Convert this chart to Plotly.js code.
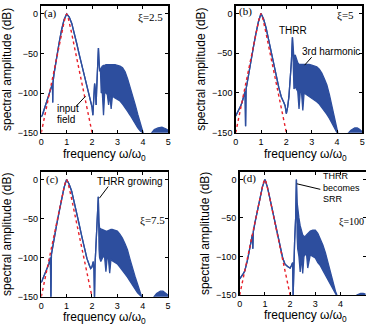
<!DOCTYPE html>
<html>
<head>
<meta charset="utf-8">
<script src="https://cdn.plot.ly/plotly-3.0.1.min.js"></script>
<style>html,body{margin:0;padding:0;background:#fff;}#chart{width:366px;height:327px;}</style>
</head>
<body>
<div id="chart"></div>
<script>
// ---- data ----
var xTicks = [0, 1, 2, 3, 4, 5];
var yTicks = [0, -50, -100, -150];
var xTitle = 'frequency ω/ω<sub>0</sub>';
var yTitle = 'spectral amplitude (dB)';

// input field (red dotted), shared by all panels
var xInput = [0,0.1,0.2,0.3,0.4,0.5,0.6,0.7,0.8,0.85,0.9,0.95,1.0,1.05,1.1,1.15,1.2,1.3,1.4,1.5,1.6,1.7,1.8,1.9,2.0];
var yInput = [-150,-134,-118,-103,-87,-72,-56,-41,-25,-18,-10,-3.5,0,-3.5,-10,-18,-25,-41,-56,-72,-87,-103,-118,-134,-150];

// panel (a) xi = 2.5 : upper / lower envelope of the output spectrum
var xA  = [0,0.05,0.1,0.15,0.2,0.25,0.3,0.35,0.4,0.44,0.45,0.46,0.5,0.6,0.7,0.8,0.9,1.0,1.1,1.2,1.3,1.4,1.5,1.6,1.7,1.8,1.85,1.9,1.95,2.0,2.03,2.07,2.1,2.13,2.16,2.18,2.2,2.23,2.25,2.27,2.3,2.33,2.36,2.4,2.45,2.5,2.55,2.6,2.65,2.7,2.75,2.8,2.9,3.0,3.1,3.2,3.3,3.4,3.5,3.6,3.7,3.8,3.9,4.0,4.1,4.3,4.45,4.6,4.75,4.9,5.0];
var hiA = [-130,-127,-122,-117,-111,-104,-99,-94,-90,-88,-112,-87,-76,-55,-37,-20,-7,0,-4,-12,-24,-38,-52,-66,-80,-94,-100,-106,-112,-118,-128,-100,-88,-96,-115,-95,-80,-60,-43,-58,-72,-70,-68,-66,-65,-65,-64,-64,-64,-64,-64,-64,-64,-65,-66,-68,-73,-82,-92,-103,-115,-127,-138,-150,-160,-152,-146,-144,-143,-145,-147];
var loA = [-130,-127,-122,-117,-111,-104,-99,-94,-90,-88,-112,-87,-76,-55,-37,-20,-7,0,-4,-12,-24,-38,-52,-66,-80,-94,-100,-106,-112,-118,-128,-100,-88,-96,-115,-95,-80,-60,-43,-58,-72,-72,-100,-98,-128,-98,-100,-102,-115,-102,-120,-104,-106,-108,-110,-114,-118,-123,-128,-134,-139,-144,-148,-150,-160,-160,-160,-160,-160,-160,-160];

// panel (b) xi = 5
var xB  = [0,0.05,0.1,0.15,0.2,0.25,0.3,0.35,0.37,0.39,0.41,0.45,0.5,0.6,0.7,0.8,0.9,1.0,1.1,1.2,1.3,1.4,1.5,1.6,1.7,1.8,1.9,1.95,2.0,2.05,2.1,2.15,2.2,2.24,2.27,2.3,2.35,2.4,2.45,2.5,2.55,2.6,2.65,2.7,2.8,2.9,3.0,3.1,3.2,3.3,3.4,3.5,3.6,3.7,3.8,3.9,4.0,4.1,4.4,4.55,4.7,4.8,4.9,5.0];
var hiB = [-129,-126,-123,-120,-116,-112,-106,-100,-98,-142,-95,-88,-78,-60,-42,-25,-10,0,-7,-18,-32,-46,-62,-78,-93,-105,-112,-116,-126,-118,-105,-85,-60,-30,-52,-56,-52,-58,-62,-64,-64,-64,-64,-64,-64,-64,-65,-66,-67,-70,-75,-82,-90,-102,-116,-130,-148,-160,-152,-147,-144,-144,-146,-149];
var loB = [-129,-126,-123,-120,-116,-112,-106,-100,-98,-142,-95,-88,-78,-60,-42,-25,-10,0,-7,-18,-32,-46,-62,-78,-93,-105,-112,-116,-126,-118,-105,-85,-60,-30,-80,-95,-92,-96,-98,-120,-98,-100,-122,-100,-102,-104,-106,-108,-111,-114,-118,-122,-127,-132,-138,-144,-150,-160,-160,-160,-160,-160,-160,-160];

// panel (c) xi = 7.5
var xC  = [0,0.05,0.1,0.15,0.2,0.25,0.3,0.36,0.38,0.4,0.45,0.5,0.6,0.7,0.8,0.9,1.0,1.1,1.2,1.3,1.4,1.5,1.6,1.7,1.8,1.9,1.95,2.0,2.05,2.08,2.1,2.12,2.15,2.2,2.25,2.28,2.3,2.35,2.4,2.45,2.5,2.55,2.6,2.65,2.7,2.75,2.8,2.9,3.0,3.1,3.2,3.3,3.4,3.5,3.6,3.7,3.8,3.9,3.96,4.1,4.4,4.55,4.7,4.8,4.9,5.0];
var hiC = [-132,-128,-125,-122,-117,-113,-108,-100,-152,-96,-86,-77,-59,-42,-25,-10,0,-6,-15,-28,-42,-58,-73,-88,-101,-110,-114,-112,-105,-115,-152,-110,-90,-70,-22,-55,-62,-63,-64,-64,-65,-66,-66,-65,-64,-64,-64,-65,-66,-70,-75,-82,-90,-102,-114,-124,-134,-145,-150,-160,-152,-146,-143,-143,-145,-148];
var loC = [-132,-128,-125,-122,-117,-113,-108,-100,-152,-96,-86,-77,-59,-42,-25,-10,0,-6,-15,-28,-42,-58,-73,-88,-101,-110,-114,-112,-105,-115,-152,-110,-90,-70,-22,-90,-100,-105,-100,-98,-100,-118,-100,-102,-120,-102,-104,-106,-108,-112,-116,-120,-125,-130,-136,-140,-145,-148,-150,-160,-160,-160,-160,-160,-160,-160];

// panel (d) xi = 100
var xD  = [0,0.05,0.1,0.15,0.2,0.25,0.3,0.35,0.4,0.45,0.5,0.52,0.54,0.6,0.7,0.8,0.9,1.0,1.1,1.2,1.3,1.4,1.5,1.6,1.7,1.75,1.8,1.9,2.0,2.05,2.1,2.12,2.14,2.18,2.22,2.25,2.28,2.3,2.35,2.4,2.45,2.5,2.55,2.6,2.65,2.7,2.8,2.9,3.0,3.1,3.2,3.3,3.4,3.5,3.6,3.7,3.8,3.86,4.0,4.5,4.65,4.8,4.9,5.0];
var hiD = [-129,-127,-125,-122,-119,-114,-106,-98,-88,-80,-72,-90,-68,-57,-41,-25,-10,0,-10,-25,-41,-56,-72,-87,-101,-106,-110,-113,-115,-112,-108,-152,-105,-80,-50,0,-30,-40,-50,-60,-68,-72,-74,-74,-72,-70,-67,-66,-66,-70,-77,-85,-95,-108,-122,-134,-145,-150,-160,-160,-150,-148,-148,-149];
var loD = [-129,-127,-125,-122,-119,-114,-106,-98,-88,-80,-72,-90,-68,-57,-41,-25,-10,0,-10,-25,-41,-56,-72,-87,-101,-106,-110,-113,-115,-112,-108,-152,-105,-80,-50,0,-75,-90,-100,-120,-100,-122,-100,-98,-96,-115,-98,-100,-102,-108,-112,-118,-124,-130,-136,-142,-148,-150,-160,-160,-160,-160,-160,-160];

// ---- drawing ----
var BLUE = '#2d4e9e';
var RED = '#e8202a';
var SANS = 'Liberation Sans, Arial, Helvetica, sans-serif';
var SERIF = 'Liberation Serif, Times New Roman, serif';

var panels = [
  {xs: xA, hi: hiA, lo: loA, xa: 'x',  ya: 'y'},
  {xs: xB, hi: hiB, lo: loB, xa: 'x2', ya: 'y2'},
  {xs: xC, hi: hiC, lo: loC, xa: 'x3', ya: 'y3'},
  {xs: xD, hi: hiD, lo: loD, xa: 'x4', ya: 'y4'}
];

var traces = [];
panels.forEach(function(p){
  traces.push({x: p.xs, y: p.lo, xaxis: p.xa, yaxis: p.ya, type: 'scatter', mode: 'lines',
    line: {color: BLUE, width: 1.3}, hoverinfo: 'skip'});
  traces.push({x: p.xs, y: p.hi, xaxis: p.xa, yaxis: p.ya, type: 'scatter', mode: 'lines',
    line: {color: BLUE, width: 1.3}, fill: 'tonexty', fillcolor: BLUE, hoverinfo: 'skip'});
  traces.push({x: xInput, y: yInput, xaxis: p.xa, yaxis: p.ya, type: 'scatter', mode: 'lines',
    line: {color: RED, width: 1.4, dash: 'dot'}, hoverinfo: 'skip'});
});

function xAxis(dom, anchor){
  return {domain: dom, anchor: anchor, range: [0, 5], tickvals: xTicks, ticks: 'inside', ticklen: 3,
    tickcolor: '#000', tickwidth: 1, showline: true, linecolor: '#000', linewidth: 1.5, mirror: 'allticks',
    showgrid: false, zeroline: false, tickfont: {family: SANS, size: 9, color: '#000'}};
}
function yAxis(dom, anchor){
  return {domain: dom, anchor: anchor, range: [-150, 10], tickvals: yTicks, ticks: 'inside', ticklen: 3,
    tickcolor: '#000', tickwidth: 1, showline: true, linecolor: '#000', linewidth: 1.5, mirror: 'allticks',
    showgrid: false, zeroline: false, tickfont: {family: SANS, size: 9, color: '#000'},
    title: {text: yTitle, font: {family: SANS, size: 12, color: '#000'}, standoff: 4}};
}

function lab(xref, yref, x, y, text, opts){
  var a = {xref: xref, yref: yref, x: x, y: y, text: text, showarrow: false,
    xanchor: 'left', yanchor: 'middle', font: {family: SANS, size: 10, color: '#000'}};
  for (var k in opts) a[k] = opts[k];
  return a;
}
var serif11 = {family: SERIF, size: 11, color: '#000'};
var titleFont = {family: SANS, size: 12, color: '#000'};

var annotations = [
  lab('x','y', 0.04, 1, '(a)', {font: serif11}),
  lab('x','y', 4.88, -5, 'ξ=2.5', {font: serif11, xanchor: 'right'}),
  lab('x','y', 0.54, -119, 'input'),
  lab('x','y', 0.54, -133, 'field'),
  lab('x2','y2', 0.04, 2, '(b)', {font: serif11}),
  lab('x2','y2', 4.76, -3, 'ξ=5', {font: serif11, xanchor: 'right'}),
  lab('x2','y2', 2.27, -22, 'THRR', {xanchor: 'center'}),
  lab('x2','y2', 3.75, -48, '3rd harmonic', {xanchor: 'center'}),
  lab('x3','y3', 0.12, 0, '(c)', {font: serif11}),
  lab('x3','y3', 3.52, -3, 'THRR growing', {xanchor: 'center'}),
  lab('x3','y3', 4.95, -52.5, 'ξ=7.5', {font: serif11, xanchor: 'right'}),
  lab('x4','y4', 0.05, 1, '(d)', {font: serif11}),
  lab('x4','y4', 3.22, -10, 'THRR<br>becomes<br>SRR', {align: 'left', font: {family: SANS, size: 9, color: '#000'}}),
  lab('x4','y4', 5.0, -55, 'ξ=100', {font: {family: SERIF, size: 10, color: '#000'}, xanchor: 'right'}),
  // x-axis titles
  lab('paper','paper', 104.5/366, 1 - 155/327, xTitle, {xanchor: 'center', font: titleFont}),
  lab('paper','paper', 305.5/366, 1 - 155/327, xTitle, {xanchor: 'center', font: titleFont}),
  lab('paper','paper', 104.5/366, 1 - 318/327, xTitle, {xanchor: 'center', font: titleFont}),
  lab('paper','paper', 305.5/366, 1 - 316/327, xTitle, {xanchor: 'center', font: titleFont})
];

function ln(xref, yref, x0, y0, x1, y1){
  return {type: 'line', xref: xref, yref: yref, x0: x0, y0: y0, x1: x1, y1: y1,
    line: {color: '#000', width: 1}};
}
var shapes = [
  ln('x','y', 1.36, -117, 1.74, -104),
  ln('x2','y2', 3.0, -55, 2.72, -65),
  ln('x3','y3', 2.64, -9, 2.29, -24),
  ln('x4','y4', 2.27, -5.7, 3.2, -12.9)
];

var layout = {
  width: 366, height: 327, margin: {l: 0, r: 0, t: 0, b: 0},
  paper_bgcolor: '#fff', plot_bgcolor: '#fff', showlegend: false,
  xaxis:  xAxis([0.1128, 0.4598], 'y'),
  yaxis:  yAxis([0.5942, 0.9817], 'x'),
  xaxis2: xAxis([0.6440, 0.9900], 'y2'),
  yaxis2: yAxis([0.5942, 0.9830], 'x2'),
  xaxis3: xAxis([0.1128, 0.4590], 'y3'),
  yaxis3: yAxis([0.0927, 0.4749], 'x3'),
  xaxis4: xAxis([0.6549, 0.9992], 'y4'),
  yaxis4: yAxis([0.0979, 0.4749], 'x4'),
  annotations: annotations,
  shapes: shapes
};

Plotly.newPlot('chart', traces, layout, {staticPlot: true, displayModeBar: false});
</script>
</body>
</html>
